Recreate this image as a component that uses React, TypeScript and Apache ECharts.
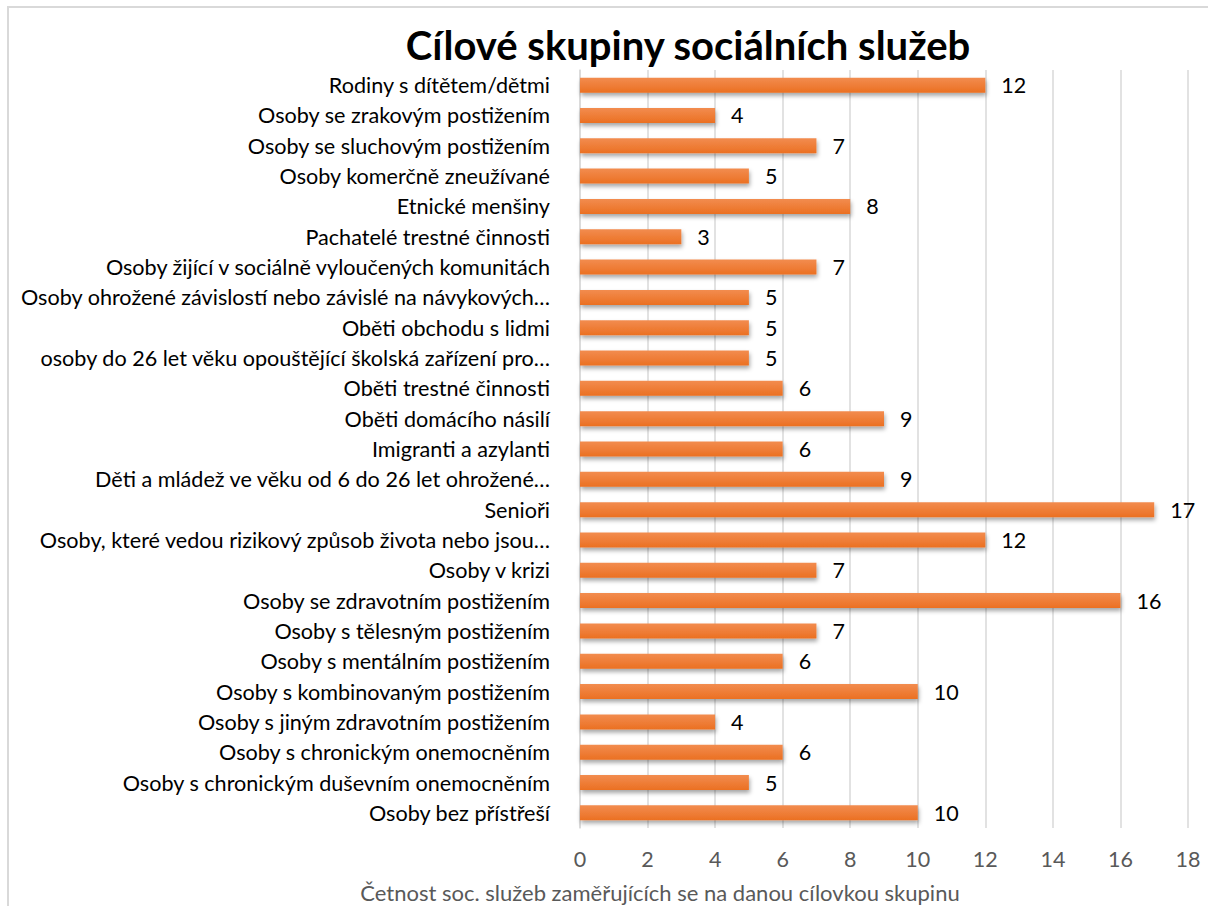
import React, { useEffect, useRef } from "react";
import * as echarts from "echarts";

const titleText = "Cílové skupiny sociálních služeb";
const axisName = "Četnost soc. služeb zaměřujících se na danou cílovkou skupinu";

const categories = [
  "Rodiny s dítětem/dětmi",
  "Osoby se zrakovým postižením",
  "Osoby se sluchovým postižením",
  "Osoby komerčně zneužívané",
  "Etnické menšiny",
  "Pachatelé trestné činnosti",
  "Osoby žijící v sociálně vyloučených komunitách",
  "Osoby ohrožené závislostí nebo závislé na návykových…",
  "Oběti obchodu s lidmi",
  "osoby do 26 let věku opouštějící školská zařízení pro…",
  "Oběti trestné činnosti",
  "Oběti domácího násilí",
  "Imigranti a azylanti",
  "Děti a mládež ve věku od 6 do 26 let ohrožené…",
  "Senioři",
  "Osoby, které vedou rizikový způsob života nebo jsou…",
  "Osoby v krizi",
  "Osoby se zdravotním postižením",
  "Osoby s tělesným postižením",
  "Osoby s mentálním postižením",
  "Osoby s kombinovaným postižením",
  "Osoby s jiným zdravotním postižením",
  "Osoby s chronickým onemocněním",
  "Osoby s chronickým duševním onemocněním",
  "Osoby bez přístřeší",
];

const values = [12, 4, 7, 5, 8, 3, 7, 5, 5, 5, 6, 9, 6, 9, 17, 12, 7, 16, 7, 6, 10, 4, 6, 5, 10];

const FONT = "Lato, 'Noto Sans', sans-serif";

export default function App() {
  const ref = useRef<HTMLDivElement>(null);

  useEffect(() => {
    if (!ref.current) return;
    const chart = echarts.init(ref.current, null, { renderer: "svg" });
    chart.setOption({
      animation: false,
      backgroundColor: "#ffffff",
      textStyle: { fontFamily: FONT },
      title: {
        text: titleText,
        left: 683,
        top: 20,
        textAlign: "center",
        textStyle: { fontFamily: FONT, fontWeight: "bold", fontSize: 40, color: "#000000" },
      },
      graphic: [
        {
          type: "rect",
          shape: { x: 8, y: 7, width: 1220, height: 920 },
          style: { fill: "none", stroke: "#d9d9d9", lineWidth: 2 },
          silent: true,
          z: -10,
        },
        {
          type: "text",
          x: 660,
          y: 892,
          style: {
            text: axisName,
            fontFamily: FONT,
            fontSize: 22,
            fill: "#595959",
            textAlign: "center",
            textVerticalAlign: "middle",
          },
        },
      ],
      grid: { left: 580, right: 20, top: 70, bottom: 78, containLabel: false },
      xAxis: {
        type: "value",
        min: 0,
        max: 18,
        interval: 2,
        axisLine: { show: false },
        axisTick: { show: false },
        axisLabel: { color: "#595959", fontSize: 21.5, margin: 20, fontFamily: FONT },
        splitLine: { show: true, lineStyle: { color: "#d9d9d9", width: 1.5 } },
      },
      yAxis: {
        type: "category",
        data: categories,
        inverse: true,
        axisLine: { show: true, lineStyle: { color: "#d9d9d9", width: 1.5 } },
        axisTick: { show: false },
        axisLabel: { color: "#000000", fontSize: 21.6, margin: 30, fontFamily: FONT },
      },
      series: [
        {
          type: "bar",
          data: values,
          barWidth: 15,
          itemStyle: {
            color: new echarts.graphic.LinearGradient(0, 0, 0, 1, [
              { offset: 0, color: "#F28C4F" },
              { offset: 1, color: "#EB7022" },
            ]),
            shadowColor: "rgba(0,0,0,0.35)",
            shadowBlur: 4,
            shadowOffsetX: 1,
            shadowOffsetY: 3,
          },
          label: {
            show: true,
            position: "right",
            distance: 16,
            color: "#000000",
            fontSize: 21.5,
            fontFamily: FONT,
          },
        },
      ],
    });
    return () => chart.dispose();
  }, []);

  return (
    <div
      ref={ref}
      style={{ position: "absolute", left: 0, top: 0, width: 1208, height: 906 }}
    />
  );
}
